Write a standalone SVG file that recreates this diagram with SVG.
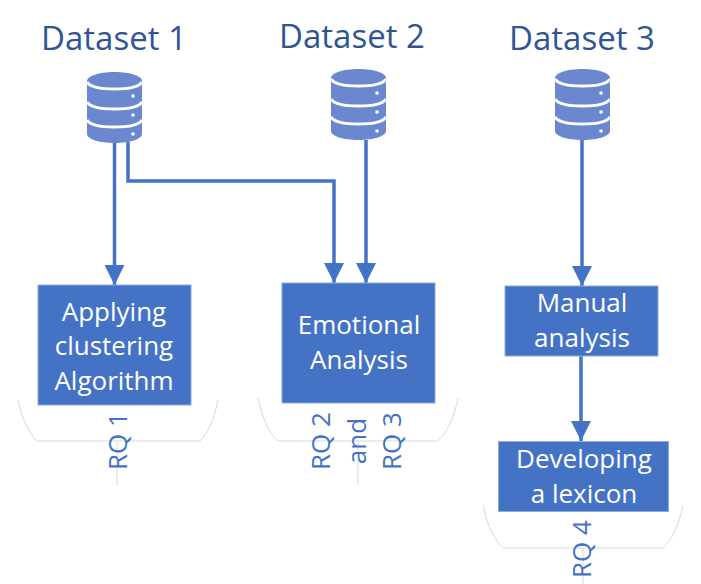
<svg xmlns="http://www.w3.org/2000/svg" width="701" height="584" viewBox="0 0 701 584">
  <style>
    text { font-family: "Open Sans", "Noto Sans", sans-serif; }
    .title { font-size: 33px; fill: #2f5597; text-anchor: middle; }
    .label { font-size: 26px; fill: #fff; text-anchor: middle; }
    .rq { font-size: 26px; fill: #4472c4; text-anchor: middle; }
    .box { fill: #4472c4; stroke: #8faadc; stroke-width: 1; }
    .link { fill: none; stroke: #4472c4; stroke-width: 3.5; }
    .brace { fill: none; stroke: #d9d9d9; stroke-width: 1; }
    .disk { fill: #6b87cf; }
    .ring { fill: none; stroke: #fff; stroke-width: 3; }
  </style>
  <defs>
    <marker id="head" markerUnits="userSpaceOnUse" markerWidth="20" markerHeight="20" refX="20" refY="10" orient="auto">
      <path d="M0 0L20 10L0 20Z" fill="#4472c4"/>
    </marker>
    <g id="db">
      <path class="disk" d="M0 9C0 4 12 0 27.500 0S55 4 55 9V62C55 67 43 71 27.500 71S0 67 0 62Z"/>
      <path class="ring" d="M0 10C3 15 14 17 27.500 17S52 15 55 10"/>
      <path class="ring" d="M0 30C3 35 14 37 27.500 37S52 35 55 30"/>
      <path class="ring" d="M0 48C3 53 14 55 27.500 55S52 53 55 48"/>
      <circle cx="46" cy="24" r="1.800" fill="#fff"/>
      <circle cx="46" cy="43" r="1.800" fill="#fff"/>
      <circle cx="46" cy="62" r="1.800" fill="#fff"/>
    </g>
  </defs>

  <rect width="701" height="584" fill="#fff"/>

  <g id="brackets">
    <path class="brace" d="M18 400C22 420 29 433 37 441H200C208 433 214 420 218 400M117 441V486"/>
    <path class="brace" d="M258 398C262 418 269 433 278 441H438C447 433 454 418 458 398M358 441V485"/>
    <path class="brace" d="M483 505C487 525 494 540 503 548H663C672 540 679 525 683 505M583 548V584"/>
  </g>

  <g id="connectors">
    <path class="link" marker-end="url(#head)" d="M114.500 142V285"/>
    <path class="link" marker-end="url(#head)" d="M128 142V181H334V283"/>
    <path class="link" marker-end="url(#head)" d="M366 140V283"/>
    <path class="link" marker-end="url(#head)" d="M582 140V286"/>
    <path class="link" marker-end="url(#head)" d="M581 356V441"/>
  </g>

  <g id="dataset-1">
    <text class="title" x="114" y="50">Dataset 1</text>
    <use href="#db" x="87" y="72"/>
  </g>
  <g id="dataset-2">
    <text class="title" x="352" y="48">Dataset 2</text>
    <use href="#db" x="331" y="69"/>
  </g>
  <g id="dataset-3">
    <text class="title" x="582" y="50">Dataset 3</text>
    <use href="#db" x="555" y="69"/>
  </g>

  <g id="clustering">
    <rect class="box" x="38" y="285" width="153" height="120"/>
    <text class="label" x="114" y="321">Applying</text>
    <text class="label" x="114" y="355">clustering</text>
    <text class="label" x="114" y="390">Algorithm</text>
  </g>
  <g id="emotional">
    <rect class="box" x="282" y="283" width="153" height="120"/>
    <text class="label" x="359" y="334">Emotional</text>
    <text class="label" x="359" y="369">Analysis</text>
  </g>
  <g id="manual">
    <rect class="box" x="505" y="286" width="153" height="70"/>
    <text class="label" x="582" y="312">Manual</text>
    <text class="label" x="582" y="347">analysis</text>
  </g>
  <g id="lexicon">
    <rect class="box" x="498.500" y="441.500" width="170" height="70"/>
    <text class="label" x="584" y="468">Developing</text>
    <text class="label" x="584" y="503">a lexicon</text>
  </g>

  <g id="questions">
    <text class="rq" transform="translate(127 441) rotate(-90)">RQ 1</text>
    <text class="rq" transform="translate(330 441) rotate(-90)">RQ 2</text>
    <text class="rq" transform="translate(366 441) rotate(-90)">and</text>
    <text class="rq" transform="translate(401 441) rotate(-90)">RQ 3</text>
    <text class="rq" transform="translate(591 549) rotate(-90)">RQ 4</text>
  </g>
</svg>
